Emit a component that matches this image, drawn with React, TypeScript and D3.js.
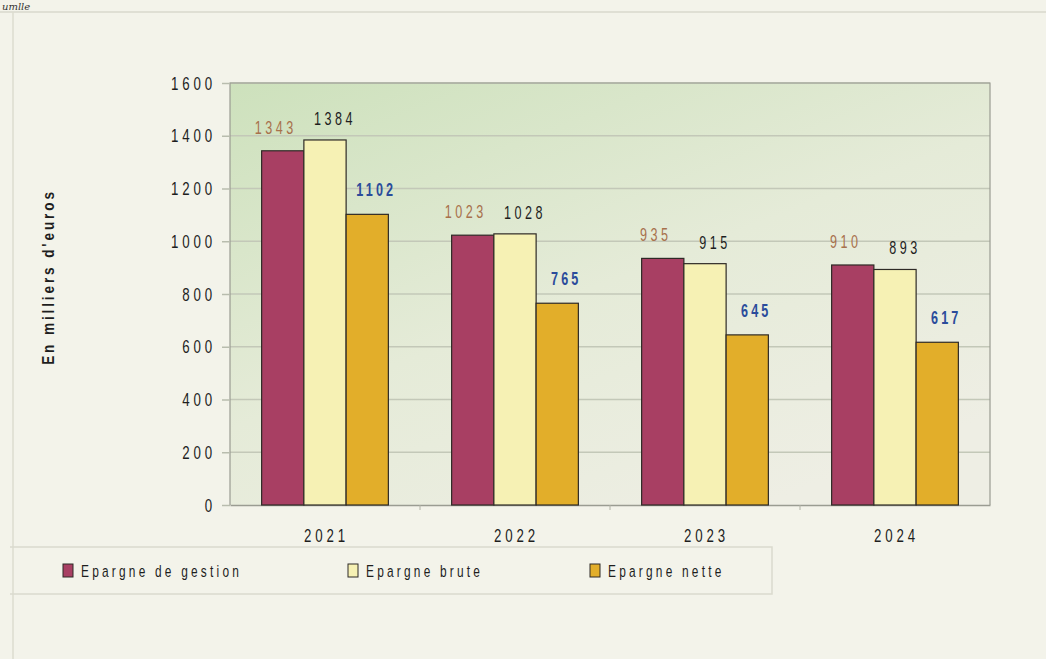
import { useEffect, useRef } from 'react';
import * as d3 from 'd3';

// Années et séries (milliers d'euros)
const years = ['2021', '2022', '2023', '2024'];
const seriesNames = ['Epargne de gestion', 'Epargne brute', 'Epargne nette'];
const gestion = [1343, 1023, 935, 910];
const brute = [1384, 1028, 915, 893];
const nette = [1102, 765, 645, 617];
const yTicks = [0, 200, 400, 600, 800, 1000, 1200, 1400, 1600];

const fills = ['#a83f63', '#f6f1b4', '#e2ae2a'];
const labelColors = ['#a8714c', '#1e1e1e', '#2b4c9b'];
const labelWeights = ['normal', 'normal', 'bold'];
// décalage des étiquettes par série (px)
const labelDx = [-9, 8, 7];
const labelLift = [17, 15, 18];

const W = 1046;
const H = 659;
const FONT = '"Liberation Sans", Arial, sans-serif';
const SX = 0.7; // police étroite simulée

// compresse horizontalement un texte (pas de police étroite installée)
function narrow(sel: d3.Selection<any, any, any, any>, sx: number) {
  sel.each(function () {
    const t = d3.select(this);
    const x = +(t.attr('x') ?? 0);
    const y = +(t.attr('y') ?? 0);
    const prev = t.attr('transform') ?? '';
    t.attr('x', 0)
      .attr('y', 0)
      .attr('transform', `${prev} translate(${x},${y}) scale(${sx},1)`);
  });
}

export default function App() {
  const svgRef = useRef<SVGSVGElement>(null);

  useEffect(() => {
    if (!svgRef.current) return;
    const svg = d3.select(svgRef.current);
    svg.selectAll('*').remove();

    const margin = { top: 83, right: 56, bottom: 154, left: 230 };
    const width = W - margin.left - margin.right;
    const height = H - margin.top - margin.bottom;

    // page de fond (scan)
    svg.append('rect').attr('width', W).attr('height', H).attr('fill', '#f3f3ea');
    svg.append('line')
      .attr('x1', 0).attr('x2', W).attr('y1', 12).attr('y2', 12)
      .attr('stroke', '#d9d9cc').attr('stroke-width', 1.5);
    svg.append('line')
      .attr('x1', 13).attr('x2', 13).attr('y1', 12).attr('y2', H)
      .attr('stroke', '#dcdccf').attr('stroke-width', 1.5);
    svg.append('text')
      .attr('x', 2).attr('y', 10)
      .attr('font-family', '"DejaVu Serif", serif')
      .attr('font-style', 'italic')
      .attr('font-size', 10)
      .attr('fill', '#333')
      .text('umlle');

    const defs = svg.append('defs');
    const grad = defs.append('linearGradient')
      .attr('id', 'plotBg')
      .attr('x1', '0%').attr('y1', '0%').attr('x2', '70%').attr('y2', '100%');
    grad.append('stop').attr('offset', '0%').attr('stop-color', '#cde1bc');
    grad.append('stop').attr('offset', '55%').attr('stop-color', '#e5ebd8');
    grad.append('stop').attr('offset', '100%').attr('stop-color', '#eeeee4');

    const g = svg.append('g').attr('transform', `translate(${margin.left},${margin.top})`);

    const x0 = d3.scaleBand<string>()
      .domain(years)
      .range([0, width])
      .paddingInner(0.333)
      .paddingOuter(0.1665);
    const x1 = d3.scaleBand<number>()
      .domain([0, 1, 2])
      .range([0, x0.bandwidth()]);
    const y = d3.scaleLinear().domain([0, 1600]).range([height, 0]);

    g.append('rect')
      .attr('width', width).attr('height', height)
      .attr('fill', 'url(#plotBg)');

    // grille
    g.append('g')
      .selectAll('line')
      .data(yTicks.filter((t) => t > 0))
      .join('line')
      .attr('x1', 0).attr('x2', width)
      .attr('y1', (d) => y(d)).attr('y2', (d) => y(d))
      .attr('stroke', '#c3c8b8')
      .attr('stroke-width', 1.5);

    // cadre
    g.append('path')
      .attr('d', `M0,${height}V0H${width}V${height}`)
      .attr('fill', 'none')
      .attr('stroke', '#9a9c92')
      .attr('stroke-width', 1.2);

    // axe Y
    const yAxis = g.append('g')
      .call(d3.axisLeft(y).tickValues(yTicks).tickSize(8).tickPadding(6).tickFormat((d) => `${d}`));
    yAxis.select('.domain').remove();
    yAxis.selectAll('line').attr('stroke', '#b8bcae').attr('stroke-width', 1.5);
    const yText = yAxis.selectAll('text')
      .attr('font-family', FONT)
      .attr('font-size', 19)
      .attr('letter-spacing', 5.5)
      .attr('fill', '#1e1e1e');
    narrow(yText, SX);

    // axe X
    const xAxis = g.append('g')
      .attr('transform', `translate(0,${height})`)
      .call(d3.axisBottom(x0).tickSize(0).tickPadding(23));
    xAxis.select('.domain').attr('stroke', '#9a9c92').attr('stroke-width', 1.5);
    const xText = xAxis.selectAll('text')
      .attr('font-family', FONT)
      .attr('font-size', 19)
      .attr('letter-spacing', 5.5)
      .attr('dx', 2)
      .attr('fill', '#1e1e1e');
    narrow(xText, SX);
    xAxis.selectAll('.sep')
      .data(years.slice(1))
      .join('line')
      .attr('class', 'sep')
      .attr('x1', (d) => (x0(d) ?? 0) - (x0.step() - x0.bandwidth()) / 2)
      .attr('x2', (d) => (x0(d) ?? 0) - (x0.step() - x0.bandwidth()) / 2)
      .attr('y1', 0).attr('y2', 5)
      .attr('stroke', '#b0b2a6');

    const series = [gestion, brute, nette];
    const rows = years.flatMap((yr, i) => series.map((s, k) => ({ yr, k, v: s[i] })));

    // barres
    g.append('g')
      .selectAll('rect')
      .data(rows)
      .join('rect')
      .attr('x', (d) => (x0(d.yr) ?? 0) + (x1(d.k) ?? 0))
      .attr('y', (d) => y(d.v))
      .attr('width', x1.bandwidth())
      .attr('height', (d) => height - y(d.v))
      .attr('fill', (d) => fills[d.k])
      .attr('stroke', '#2e2a26')
      .attr('stroke-width', 1.2);

    // étiquettes de valeurs
    const vals = g.append('g')
      .selectAll('text')
      .data(rows)
      .join('text')
      .attr('x', (d) => (x0(d.yr) ?? 0) + (x1(d.k) ?? 0) + x1.bandwidth() / 2 + labelDx[d.k] + 2)
      .attr('y', (d) => y(d.v) - labelLift[d.k])
      .attr('text-anchor', 'middle')
      .attr('font-family', FONT)
      .attr('font-size', 18)
      .attr('font-weight', (d) => labelWeights[d.k])
      .attr('letter-spacing', (d) => (d.k === 2 ? 4.5 : 5))
      .attr('fill', (d) => labelColors[d.k])
      .text((d) => d.v);
    narrow(vals, SX);

    // titre de l'axe
    svg.append('text')
      .attr('transform', `translate(50,${margin.top + 194}) rotate(-90) scale(0.8,1)`)
      .attr('text-anchor', 'middle')
      .attr('dominant-baseline', 'middle')
      .attr('font-family', FONT)
      .attr('font-size', 17)
      .attr('font-weight', 'bold')
      .attr('letter-spacing', 3.6)
      .attr('fill', '#1e1e1e')
      .text("En milliers d'euros");

    // légende
    const leg = svg.append('g');
    leg.append('path')
      .attr('d', 'M10,547H772V594H10')
      .attr('fill', 'none')
      .attr('stroke', '#dadace')
      .attr('stroke-width', 1.5);
    const legX = [63, 348, 590];
    seriesNames.forEach((name, k) => {
      leg.append('rect')
        .attr('x', legX[k]).attr('y', 564)
        .attr('width', 10).attr('height', 13)
        .attr('fill', fills[k])
        .attr('stroke', '#2e2a26')
        .attr('stroke-width', 1);
      const t = leg.append('text')
        .attr('x', legX[k] + 18).attr('y', 577)
        .attr('font-family', FONT)
        .attr('font-size', 17)
        .attr('letter-spacing', 4.6)
        .attr('fill', '#1e1e1e')
        .text(name);
      narrow(t, SX);
    });
  }, []);

  return (
    <svg
      ref={svgRef}
      width={W}
      height={H}
      style={{ position: 'fixed', left: 0, top: 0, display: 'block' }}
    />
  );
}
